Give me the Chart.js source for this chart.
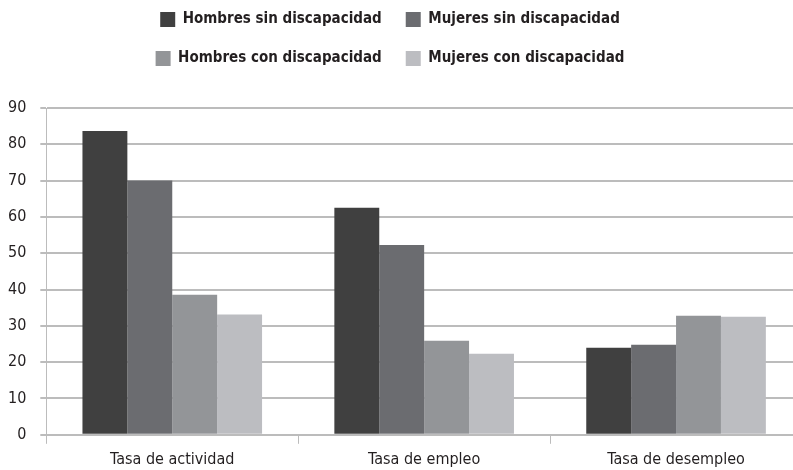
<!DOCTYPE html>
<html>
<head>
<meta charset="utf-8">
<script src="https://cdn.jsdelivr.net/npm/chart.js@4"></script>
<style>
  html, body { margin: 0; padding: 0; background: #fff; overflow: hidden; }
  #wrap { width: 793px; height: 470px; overflow: hidden; }
  #box { width: 802px; height: 470px; }
</style>
</head>
<body>
<div id="wrap"><div id="box"><canvas id="chart"></canvas></div></div>
<script>
const categories = ['Tasa de actividad', 'Tasa de empleo', 'Tasa de desempleo'];
const seriesNames = ['Hombres sin discapacidad', 'Mujeres sin discapacidad', 'Hombres con discapacidad', 'Mujeres con discapacidad'];
const hombresSin = [83.7, 62.5, 24.0];
const mujeresSin = [70.0, 52.3, 24.8];
const hombresCon = [38.6, 25.9, 32.8];
const mujeresCon = [33.1, 22.3, 32.5];
const colors = ['#404040', '#6b6c70', '#939598', '#bcbdc1'];

const fontFamily = '"Liberation Sans Narrow", "DejaVu Sans Condensed", "Liberation Sans", sans-serif';

// two legend items per row, extra room under the legend, nudged left
const legendTweak = {
  id: 'legendTweak',
  beforeInit(chart) {
    const legend = chart.legend;
    const fit = legend.fit;
    legend.fit = function () {
      this.maxWidth = Math.min(this.maxWidth, 540);
      fit.call(this);
      this.height += 32;
    };
    const draw = legend.draw;
    legend.draw = function () {
      const c = this.ctx;
      c.save();
      c.translate(-8, 0);
      draw.call(this);
      c.restore();
    };
  },
};

const ctx = document.getElementById('chart').getContext('2d');
const chart = new Chart(ctx, {
  type: 'bar',
  data: {
    labels: categories,
    datasets: [hombresSin, mujeresSin, hombresCon, mujeresCon].map((d, i) => ({
      label: seriesNames[i],
      data: d,
      backgroundColor: colors[i],
      borderWidth: 0,
      barPercentage: 1.0,
      categoryPercentage: 0.713,
    })),
  },
  options: {
    responsive: true,
    maintainAspectRatio: false,
    animation: false,
    layout: { padding: { top: -12, left: -6, right: 0, bottom: -5 } },
    plugins: {
      tooltip: { enabled: false },
      legend: {
        position: 'top',
        labels: {
          color: '#231f20',
          boxWidth: 15,
          boxHeight: 15,
          padding: 24,
          font: { family: fontFamily, size: 15, weight: 'bold' },
        },
      },
    },
    scales: {
      x: {
        grid: { offset: true, drawOnChartArea: false, color: '#bcbcbc', tickLength: 9 },
        border: { color: '#bcbcbc' },
        ticks: { color: '#231f20', padding: 6, font: { family: fontFamily, size: 16 } },
      },
      y: {
        min: 0,
        max: 90,
        ticks: { stepSize: 10, color: '#231f20', padding: 14, font: { family: fontFamily, size: 16 } },
        grid: { color: '#bcbcbc', lineWidth: 2, tickLength: 6 },
        border: { color: '#bcbcbc' },
      },
    },
  },
  plugins: [legendTweak],
});
</script>
</body>
</html>
